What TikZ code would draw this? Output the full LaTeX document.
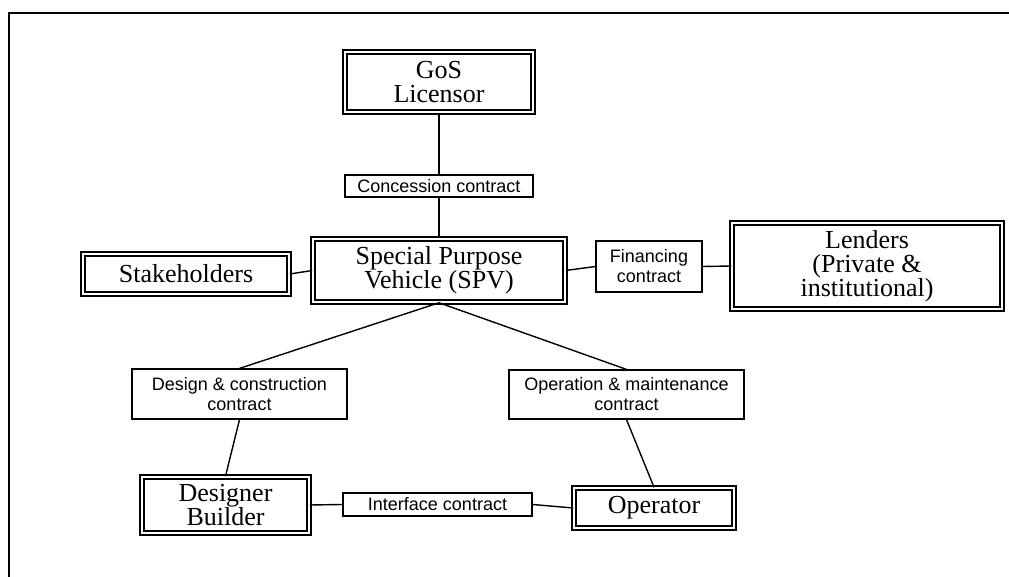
\documentclass[tikz,border=0pt]{standalone}
\usepackage{fontspec}
\setmainfont{Liberation Serif}
\setsansfont{Liberation Sans}
\usepackage{tikz}
\usetikzlibrary{positioning, calc}

\tikzset{
    party/.style={draw, line width=0.75pt, double, double distance=1.3pt, align=center,
        inner sep=1pt, font=\fontsize{13}{12}\selectfont},
    deal/.style={draw, line width=0.6pt, fill=white, align=center, inner sep=1pt,
        font=\sffamily\fontsize{9}{10}\selectfont},
    link/.style={line width=0.7pt}
}

\begin{document}
\begin{tikzpicture}[x=0.5pt, y=-0.5pt]
    \useasboundingbox (0,0) rectangle (1009,577);
    % Frame (top and left only)
    \draw[line width=1.25pt] (9,577) -- (9,13) -- (1009,13);
    % Parties
    \node[party, minimum width=94pt, minimum height=30pt] (gos) at (439,82) {GoS\\Licensor};
    \node[party, minimum width=126pt, minimum height=31.5pt] (spv) at (439,270.5) {Special Purpose\\Vehicle (SPV)};
    \node[party, minimum width=103pt, minimum height=20pt] (stake) at (186,274) {Stakeholders};
    \node[party, minimum width=135pt, minimum height=43pt] (lend) at (867,266) {Lenders\\(Private \&\\institutional)};
    \node[party, minimum width=83.5pt, minimum height=28pt] (db) at (225.5,505) {Designer\\Builder};
    \node[party, minimum width=80pt, minimum height=20pt] (oper) at (654,508) {Operator};
    % Contracts
    \node[deal, minimum width=94pt, minimum height=11pt] (conc) at (439,186) {Concession contract};
    \node[deal, minimum width=53pt, minimum height=25.5pt] (fin) at (649,266.5) {Financing\\contract};
    \node[deal, minimum width=107.5pt, minimum height=25pt] (dcc) at (239.5,394) {Design \& construction\\contract};
    \node[deal, minimum width=117.5pt, minimum height=24.5pt] (omc) at (626.5,394.5) {Operation \& maintenance\\contract};
    \node[deal, minimum width=94.5pt, minimum height=11.5pt] (iface) at (437.5,504.5) {Interface contract};
    % Connectors
    \draw[link] (gos.south) -- (conc.north);
    \draw[link] (conc.south) -- (spv.north);
    \draw[link] (stake.east) -- (spv.west);
    \draw[link] (spv.east) -- (fin.west);
    \draw[link] (fin.east) -- (lend.west);
    \draw[link] (spv.south) -- (dcc.north);
    \draw[link] (spv.south) -- (omc.north);
    \draw[link] (dcc.south) -- (db.north);
    \draw[link] (omc.south) -- (oper.north);
    \draw[link] (db.east) -- (iface.west);
    \draw[link] (iface.east) -- (oper.west);
\end{tikzpicture}
\end{document}
